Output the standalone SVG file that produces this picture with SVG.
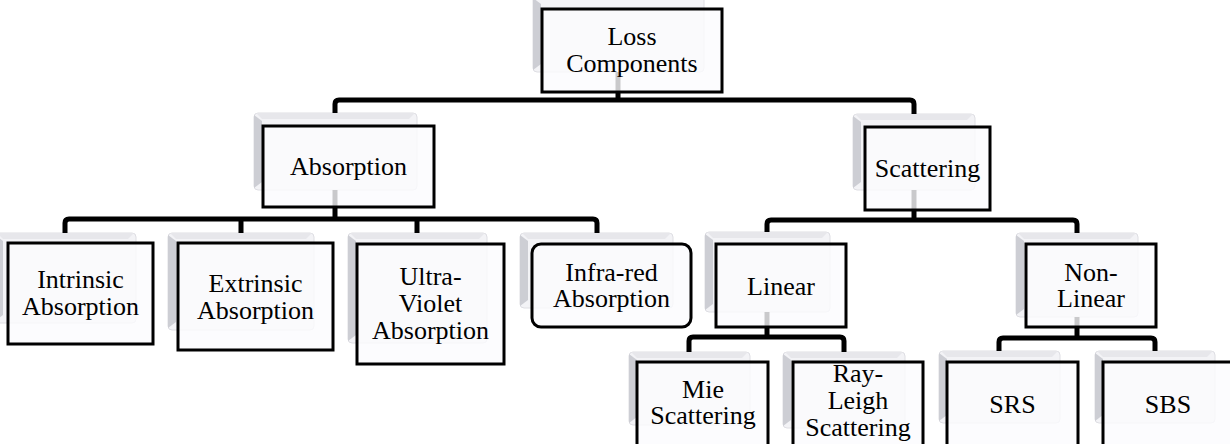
<svg xmlns="http://www.w3.org/2000/svg" width="1230" height="444" viewBox="0 0 1230 444">
<style>
.sh{fill:#f3f3f6;stroke:#dedee3;stroke-width:1}
.shl{fill:#cdced4}
.sht{fill:#e7e7eb}
.fb{fill:#fbfbfe;fill-opacity:0.8;stroke:#000;stroke-width:3}
.cn{fill:none;stroke:#000;stroke-width:5;stroke-linejoin:round}
.t{font-family:'Liberation Serif','Tinos','Times New Roman','DejaVu Serif',serif;font-size:26px;fill:#000;text-anchor:middle}
</style>
<g id="shadows">
<g><rect class="sh" x="533" y="-4" width="171" height="76" rx="4"/><path class="shl" d="M533,-2 L541,4 V64 L533,70 Z"/></g>
<g><rect class="sh" x="254" y="113" width="163" height="77" rx="4"/><path class="shl" d="M254,115 L262,121 V182 L254,188 Z"/><path class="sht" d="M256,113 H415 L409,119 H262 Z"/></g>
<g><rect class="sh" x="853" y="114" width="122" height="76" rx="4"/><path class="shl" d="M853,116 L861,122 V182 L853,188 Z"/><path class="sht" d="M855,114 H973 L967,120 H861 Z"/></g>
<g><rect class="sh" x="-5" y="233" width="141" height="90" rx="4"/><path class="shl" d="M-5,235 L3,241 V315 L-5,321 Z"/><path class="sht" d="M-3,233 H134 L128,239 H3 Z"/></g>
<g><rect class="sh" x="168" y="233" width="146" height="97" rx="4"/><path class="shl" d="M168,235 L176,241 V322 L168,328 Z"/><path class="sht" d="M170,233 H312 L306,239 H176 Z"/></g>
<g><rect class="sh" x="348" y="233" width="139" height="110" rx="4"/><path class="shl" d="M348,235 L356,241 V335 L348,341 Z"/><path class="sht" d="M350,233 H485 L479,239 H356 Z"/></g>
<g><rect class="sh" x="520" y="233" width="153" height="75" rx="4"/><path class="shl" d="M520,235 L528,241 V300 L520,306 Z"/><path class="sht" d="M522,233 H671 L665,239 H528 Z"/></g>
<g><rect class="sh" x="705" y="232" width="125" height="80" rx="4"/><path class="shl" d="M705,234 L713,240 V304 L705,310 Z"/><path class="sht" d="M707,232 H828 L822,238 H713 Z"/></g>
<g><rect class="sh" x="1016" y="233" width="122" height="84" rx="4"/><path class="shl" d="M1016,235 L1024,241 V309 L1016,315 Z"/><path class="sht" d="M1018,233 H1136 L1130,239 H1024 Z"/></g>
<g><rect class="sh" x="629" y="352" width="121" height="73" rx="4"/><path class="shl" d="M629,354 L637,360 V417 L629,423 Z"/><path class="sht" d="M631,352 H748 L742,358 H637 Z"/></g>
<g><rect class="sh" x="783" y="352" width="122" height="76" rx="4"/><path class="shl" d="M783,354 L791,360 V420 L783,426 Z"/><path class="sht" d="M785,352 H903 L897,358 H791 Z"/></g>
<g><rect class="sh" x="939" y="351" width="121" height="72" rx="4"/><path class="shl" d="M939,353 L947,359 V415 L939,421 Z"/><path class="sht" d="M941,351 H1058 L1052,357 H947 Z"/></g>
<g><rect class="sh" x="1095" y="351" width="120" height="72" rx="4"/><path class="shl" d="M1095,353 L1103,359 V415 L1095,421 Z"/><path class="sht" d="M1097,351 H1213 L1207,357 H1103 Z"/></g>
</g>
<g id="connectors">
<path class="cn" d="M618,72 V100"/>
<path class="cn" d="M335,113 V104 Q335,100 339,100 H910 Q914,100 914,104 V114"/>
<path class="cn" d="M335,190 V219"/>
<path class="cn" d="M65,233 V223 Q65,219 69,219 H593 Q597,219 597,223 V233"/>
<path class="cn" d="M241,219 V233 M417,219 V233"/>
<path class="cn" d="M914,190 V220"/>
<path class="cn" d="M767,232 V224 Q767,220 771,220 H1073 Q1077,220 1077,224 V233"/>
<path class="cn" d="M767,312 V337"/>
<path class="cn" d="M689,352 V341 Q689,337 693,337 H840 Q844,337 844,341 V352"/>
<path class="cn" d="M1077,317 V338"/>
<path class="cn" d="M999,351 V342 Q999,338 1003,338 H1151 Q1155,338 1155,342 V351"/>
</g>
<g id="loss"><rect class="fb" x="542" y="9" width="180" height="83"/><text class="t" x="632" y="45">Loss</text><text class="t" x="632" y="72">Components</text></g>
<g id="absorption"><rect class="fb" x="263" y="126" width="171" height="81"/><text class="t" x="348.5" y="175">Absorption</text></g>
<g id="scattering"><rect class="fb" x="865" y="127" width="125" height="83"/><text class="t" x="927.5" y="177">Scattering</text></g>
<g id="intrinsic"><rect class="fb" x="8" y="243" width="145" height="101"/><text class="t" x="80.5" y="288">Intrinsic</text><text class="t" x="80.5" y="315">Absorption</text></g>
<g id="extrinsic"><rect class="fb" x="178" y="243" width="155" height="107"/><text class="t" x="255.5" y="292">Extrinsic</text><text class="t" x="255.5" y="319">Absorption</text></g>
<g id="ultraviolet"><rect class="fb" x="357" y="244" width="147" height="120"/><text class="t" x="430.5" y="285">Ultra-</text><text class="t" x="430.5" y="312">Violet</text><text class="t" x="430.5" y="339">Absorption</text></g>
<g id="infrared"><rect class="fb" x="532" y="244" width="159" height="83" rx="9"/><text class="t" x="611.5" y="281">Infra-red</text><text class="t" x="611.5" y="307">Absorption</text></g>
<g id="linear"><rect class="fb" x="716" y="244" width="130" height="83"/><text class="t" x="781" y="295">Linear</text></g>
<g id="nonlinear"><rect class="fb" x="1026" y="244" width="130" height="83"/><text class="t" x="1091" y="281">Non-</text><text class="t" x="1091" y="307">Linear</text></g>
<g id="mie"><rect class="fb" x="637" y="362" width="131" height="90"/><text class="t" x="703" y="398">Mie</text><text class="t" x="703" y="424">Scattering</text></g>
<g id="rayleigh"><rect class="fb" x="793" y="362" width="130" height="90"/><text class="t" x="858" y="382">Ray-</text><text class="t" x="858" y="409">Leigh</text><text class="t" x="858" y="436">Scattering</text></g>
<g id="srs"><rect class="fb" x="947" y="362" width="131" height="90"/><text class="t" x="1012.5" y="413">SRS</text></g>
<g id="sbs"><rect class="fb" x="1103" y="362" width="132" height="90"/><text class="t" x="1168" y="413">SBS</text></g>
</svg>
